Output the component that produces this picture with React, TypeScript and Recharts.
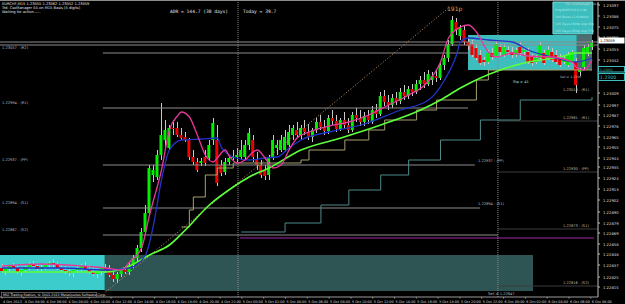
import { ComposedChart, Bar, Line, XAxis, YAxis, ReferenceArea, ReferenceLine } from "recharts";

// candles, [open, high, low, close]
const ohlc: number[][] = [
  [1.22834, 1.22838, 1.22829, 1.22831], [1.22831, 1.22835, 1.22827, 1.22833], [1.22833, 1.22837, 1.2283, 1.22836],
  [1.22836, 1.22839, 1.22832, 1.22834], [1.22834, 1.22837, 1.22828, 1.2283], [1.2283, 1.22834, 1.22826, 1.22832],
  [1.22832, 1.22836, 1.22829, 1.22835], [1.22835, 1.2284, 1.22832, 1.22838], [1.22838, 1.22841, 1.22834, 1.22836],
  [1.22836, 1.22839, 1.22831, 1.22833], [1.22833, 1.22837, 1.2283, 1.22835], [1.22835, 1.22839, 1.22832, 1.22837],
  [1.22837, 1.22841, 1.22834, 1.22839], [1.22839, 1.22843, 1.22835, 1.22837], [1.22837, 1.2284, 1.22832, 1.22834],
  [1.22834, 1.22838, 1.22829, 1.22832], [1.22832, 1.22836, 1.22828, 1.22831], [1.22831, 1.22835, 1.22826, 1.22829],
  [1.22829, 1.22834, 1.22825, 1.22832], [1.22832, 1.22836, 1.22829, 1.22834], [1.22834, 1.22838, 1.2283, 1.22836],
  [1.22836, 1.2284, 1.22832, 1.22833], [1.22833, 1.22837, 1.22828, 1.2283], [1.2283, 1.22834, 1.22826, 1.22828],
  [1.22828, 1.22833, 1.22824, 1.22831], [1.22831, 1.22835, 1.22827, 1.22834], [1.22834, 1.22838, 1.22829, 1.22832],
  [1.22832, 1.22837, 1.22825, 1.22827], [1.22827, 1.22832, 1.2282, 1.22823], [1.22823, 1.2283, 1.22819, 1.22828],
  [1.22828, 1.22834, 1.22825, 1.22832], [1.22832, 1.22836, 1.22828, 1.2283], [1.2283, 1.2284, 1.22827, 1.22837],
  [1.22837, 1.22847, 1.22834, 1.22844], [1.22844, 1.22857, 1.2284, 1.22854], [1.22854, 1.22874, 1.2285, 1.2287],
  [1.2287, 1.22897, 1.22868, 1.22889], [1.22889, 1.22937, 1.22886, 1.22934], [1.22927, 1.22937, 1.2292, 1.22932],
  [1.22925, 1.22952, 1.22922, 1.22947], [1.22947, 1.22999, 1.22942, 1.22967], [1.22962, 1.22982, 1.22952, 1.22972],
  [1.22954, 1.22977, 1.22952, 1.22974], [1.22974, 1.22982, 1.22967, 1.22973], [1.22974, 1.2298, 1.22965, 1.22967],
  [1.22967, 1.22974, 1.22962, 1.22964], [1.22965, 1.2297, 1.2296, 1.22962], [1.22962, 1.22964, 1.22942, 1.22945],
  [1.22945, 1.22952, 1.22937, 1.2294], [1.2294, 1.22944, 1.2293, 1.22932], [1.22939, 1.22944, 1.22936, 1.22941],
  [1.22945, 1.22952, 1.22936, 1.22939], [1.22944, 1.22962, 1.22942, 1.22957], [1.22962, 1.22984, 1.22957, 1.22979],
  [1.22962, 1.22977, 1.22916, 1.22919], [1.22937, 1.22942, 1.22926, 1.22929], [1.2293, 1.22944, 1.22927, 1.2294],
  [1.2294, 1.22947, 1.22937, 1.22944], [1.22944, 1.22952, 1.22942, 1.22945], [1.22945, 1.22954, 1.2294, 1.22947],
  [1.22945, 1.22962, 1.22942, 1.22952], [1.22945, 1.22962, 1.22942, 1.22957], [1.22957, 1.22974, 1.22952, 1.22969],
  [1.22962, 1.22967, 1.2294, 1.22945], [1.22942, 1.2295, 1.22932, 1.22937], [1.22937, 1.22942, 1.22924, 1.22927],
  [1.22932, 1.22937, 1.22922, 1.22926], [1.22927, 1.22947, 1.22922, 1.22944], [1.22945, 1.22967, 1.22942, 1.22962],
  [1.22954, 1.22962, 1.22947, 1.22957], [1.22952, 1.22967, 1.2295, 1.22962], [1.22952, 1.22972, 1.2295, 1.22965],
  [1.22957, 1.22977, 1.22952, 1.2297], [1.22967, 1.22977, 1.22962, 1.22974], [1.22972, 1.2298, 1.22964, 1.22967],
  [1.22967, 1.22977, 1.22962, 1.22974], [1.22974, 1.22982, 1.22967, 1.2297], [1.2297, 1.22978, 1.22962, 1.22965],
  [1.22965, 1.22974, 1.2296, 1.22972], [1.22972, 1.22984, 1.22969, 1.2298], [1.2298, 1.22987, 1.22972, 1.22975],
  [1.22975, 1.22982, 1.22967, 1.22971], [1.22971, 1.22987, 1.22968, 1.22984], [1.22984, 1.22992, 1.22977, 1.22981],
  [1.22981, 1.22987, 1.2297, 1.22973], [1.22973, 1.22984, 1.22971, 1.22982], [1.22982, 1.2299, 1.22974, 1.22977],
  [1.22977, 1.22984, 1.22969, 1.22972], [1.22972, 1.2299, 1.2297, 1.22987], [1.22987, 1.22994, 1.2298, 1.22984],
  [1.22984, 1.22992, 1.22976, 1.2298], [1.2298, 1.2299, 1.22976, 1.22986], [1.22986, 1.22992, 1.22978, 1.22982],
  [1.2298, 1.22996, 1.22978, 1.22992], [1.22992, 1.22998, 1.22984, 1.22988], [1.22988, 1.2301, 1.22986, 1.23006],
  [1.23006, 1.23012, 1.22996, 1.23], [1.23, 1.23007, 1.22992, 1.22997], [1.22997, 1.23008, 1.22994, 1.23004],
  [1.23004, 1.2301, 1.22997, 1.23001], [1.23001, 1.23014, 1.22998, 1.2301], [1.2301, 1.23017, 1.23002, 1.23006],
  [1.23006, 1.23016, 1.23003, 1.23013], [1.23013, 1.23018, 1.23006, 1.2301], [1.2301, 1.23022, 1.23008, 1.23018],
  [1.23018, 1.23026, 1.23012, 1.23022], [1.23022, 1.2303, 1.23014, 1.23018], [1.23018, 1.23032, 1.23016, 1.23028],
  [1.23022, 1.2303, 1.23017, 1.23026], [1.23026, 1.23032, 1.2302, 1.23024], [1.23024, 1.2304, 1.23022, 1.23037],
  [1.23037, 1.23047, 1.23032, 1.23044], [1.23044, 1.23062, 1.2304, 1.23058], [1.23058, 1.23086, 1.23056, 1.23082],
  [1.2308, 1.23084, 1.23067, 1.23072], [1.23066, 1.23077, 1.23062, 1.23074], [1.23072, 1.23077, 1.23057, 1.2306],
  [1.2306, 1.23064, 1.23052, 1.23056], [1.23058, 1.23062, 1.23045, 1.23047], [1.23054, 1.23058, 1.23042, 1.23044],
  [1.23047, 1.23052, 1.23037, 1.23039], [1.23042, 1.23045, 1.23036, 1.2304], [1.2304, 1.23052, 1.23038, 1.23049],
  [1.23049, 1.23054, 1.23042, 1.23045], [1.23045, 1.23062, 1.23044, 1.23058], [1.23055, 1.23058, 1.23046, 1.2305],
  [1.23047, 1.23058, 1.23045, 1.23055], [1.23052, 1.23056, 1.23047, 1.2305], [1.2305, 1.23055, 1.23044, 1.23047],
  [1.23047, 1.23054, 1.23045, 1.23052], [1.23055, 1.2306, 1.23046, 1.23049], [1.2305, 1.23054, 1.23046, 1.23052],
  [1.2305, 1.23054, 1.23038, 1.2304], [1.23045, 1.23048, 1.23036, 1.23039], [1.2304, 1.23047, 1.23038, 1.23044],
  [1.23044, 1.2306, 1.23042, 1.23057], [1.23049, 1.23052, 1.23037, 1.23039], [1.23044, 1.23056, 1.23042, 1.23052],
  [1.2305, 1.23054, 1.2304, 1.23042], [1.23047, 1.23052, 1.23038, 1.2304], [1.23044, 1.23048, 1.23035, 1.23037],
  [1.2304, 1.23046, 1.23038, 1.23044], [1.23037, 1.2305, 1.23035, 1.23047], [1.2304, 1.23052, 1.23038, 1.2305],
  [1.2304, 1.23044, 1.23009, 1.23017], [1.2303, 1.23034, 1.23026, 1.23032], [1.23035, 1.23057, 1.23032, 1.23054],
  [1.23049, 1.23058, 1.23046, 1.23055], [1.23055, 1.23062, 1.23052, 1.23059],
];

// indicator lines, [bar, price]
const fastMA = [
  [0, 1.22836], [10, 1.22838], [20, 1.22836], [26, 1.22834], [30, 1.22832], [32, 1.2284], [35, 1.22854],
  [37, 1.22887], [40, 1.22932], [42, 1.22972], [44, 1.22986], [45, 1.2299], [47, 1.22985], [49, 1.22967],
  [51, 1.22947], [53, 1.2294], [54, 1.22944], [56, 1.22952], [57, 1.22946], [59, 1.22939], [61, 1.22942],
  [63, 1.2295], [64, 1.22952], [66, 1.22944], [68, 1.22934], [70, 1.22937], [72, 1.22952], [74, 1.22964],
  [77, 1.2297], [82, 1.22976], [87, 1.2298], [92, 1.22987], [97, 1.22997], [102, 1.23007], [106, 1.23017],
  [110, 1.2304], [112, 1.23064], [115, 1.23075], [117, 1.23077], [119, 1.2307], [122, 1.2305], [124, 1.23045],
  [128, 1.23049], [132, 1.23046], [138, 1.23045], [143, 1.2304], [144, 1.23035], [146, 1.23032], [148, 1.23042],
];
const midMA = [
  [0, 1.22834], [15, 1.22834], [26, 1.22832], [32, 1.22834], [36, 1.22847], [38, 1.22877], [40, 1.22922],
  [42, 1.22952], [45, 1.22962], [50, 1.22963], [54, 1.22964], [55, 1.22955], [58, 1.22945], [62, 1.22942],
  [66, 1.22944], [69, 1.22945], [72, 1.22954], [75, 1.22962], [82, 1.2297], [90, 1.22977], [100, 1.22992],
  [107, 1.23002], [111, 1.23022], [114, 1.23047], [115, 1.2306], [117, 1.23064], [122, 1.23062], [128, 1.2306],
  [132, 1.23052], [138, 1.23045], [144, 1.2304], [148, 1.23044],
];
const slowMA = [
  [0, 1.2283], [15, 1.2283], [26, 1.2283], [32, 1.22836], [37, 1.22847], [42, 1.22857], [46, 1.22872],
  [52, 1.22897], [58, 1.22915], [62, 1.22925], [67, 1.22934], [75, 1.22952], [85, 1.22964], [95, 1.22977],
  [105, 1.22992], [110, 1.23002], [115, 1.23014], [120, 1.23024], [125, 1.23032], [132, 1.2304], [140, 1.23045],
  [144, 1.23049], [148, 1.23049],
];
const trailStop = [
  [45, 1.22875], [47, 1.22892], [48, 1.22905], [51, 1.22927], [54, 1.22934], [58, 1.22939], [75, 1.22942],
  [77, 1.22952], [86, 1.22962], [92, 1.22972], [96, 1.22982], [104, 1.22992], [109, 1.23002], [119, 1.23022],
  [122, 1.23032], [148, 1.23032],
];
const lowerStop = [
  [60, 1.2287], [71, 1.22879], [80, 1.22897], [87, 1.22912], [95, 1.22927], [102, 1.22942], [110, 1.22962],
  [120, 1.22982], [130, 1.23002], [148, 1.23005],
];
const trendLine = [[26, 1.2281], [112, 1.23094]];

const xTickPos = [
  0, 5.47, 10.94, 16.41, 21.88, 27.35, 32.82, 38.29, 43.76, 49.23, 54.7, 60.17, 65.64, 71.11, 76.58, 82.05,
  87.52, 92.99, 98.46, 103.93, 109.4, 114.87, 120.34, 125.81, 131.28, 136.75, 142.22, 147.69,
];
const xLabels = [
  "4 Oct 2013", "4 Oct 04:00", "4 Oct 06:00", "4 Oct 08:00", "4 Oct 10:00", "4 Oct 12:00", "4 Oct 14:00",
  "4 Oct 16:00", "4 Oct 18:00", "4 Oct 20:00", "4 Oct 22:00", "5 Oct 00:00", "5 Oct 02:00", "5 Oct 04:00",
  "5 Oct 06:00", "5 Oct 08:00", "5 Oct 10:00", "5 Oct 12:00", "5 Oct 14:00", "5 Oct 16:00", "5 Oct 18:00",
  "5 Oct 20:00", "5 Oct 22:00", "6 Oct 00:00", "6 Oct 02:00", "6 Oct 04:00", "6 Oct 06:00", "6 Oct 08:00",
];
// price scale ticks (the ones hidden behind the level boxes are left out)
const yTicks = [
  1.23097, 1.23086, 1.23075, 1.23065, 1.23053, 1.23042, 1.23009, 1.22997, 1.22987, 1.22976,
  1.22965, 1.22955, 1.22944, 1.22935, 1.22924, 1.22913, 1.22902, 1.2289, 1.22879, 1.22869, 1.22858, 1.22848,
  1.22837, 1.22825, 1.22815,
];

// pivot levels: [price, from bar, to bar]
const pivots = [
  [1.2306, -0.5, 149.5], [1.23057, -0.5, 149.5], [1.23049, 25.3, 116.9], [1.22994, 25.3, 116.9],
  [1.22937, 25.3, 118.6], [1.22894, 25.3, 119.9], [1.22867, 25.3, 124.4],
];
const nextPivots = [1.22981, 1.2293, 1.22873, 1.22816];

const rows: any[] = ohlc.map(([o, h, l, c], i) => ({ t: i, o, h, l, c, range: [l, h] }));
const lineSets: Record<string, number[][]> = { fastMA, midMA, slowMA, trailStop, lowerStop, trendLine };
Object.entries(lineSets).forEach(([key, pts]) => {
  pts.forEach(([t, v]) => {
    rows[t][key] = v;
  });
});

const Candle = (props: any) => {
  const { x, y, width, height, payload } = props;
  if (!payload || payload.o == null) return null;
  const { o, h, l, c } = payload;
  const top = Math.min(y, y + height);
  const hh = Math.abs(height);
  const span = h - l || 1;
  const py = (v: number) => top + ((h - v) / span) * hh;
  const cx = Math.round(x + width / 2) + 0.5;
  const b1 = py(Math.max(o, c));
  const b2 = py(Math.min(o, c));
  return (
    <g>
      <line x1={cx} x2={cx} y1={top} y2={top + hh} stroke="#c8c8c8" strokeWidth={1} />
      {o === c ? (
        <line x1={x} x2={x + width} y1={b1} y2={b1} stroke="#fff" strokeWidth={1} />
      ) : (
        <rect x={x} y={b1} width={width} height={Math.max(1, b2 - b1)} fill={c > o ? "#00f000" : "#f00000"} />
      )}
    </g>
  );
};

const XTick = ({ x, y, payload }: any) => (
  <text x={x + 1} y={y + 2.4} fontSize={3.4} fill="#dcdcdc" fontFamily="DejaVu Sans">
    {xLabels[xTickPos.indexOf(payload.value)]}
  </text>
);

const YTick = ({ x, y, payload }: any) => (
  <text x={x + 1} y={y + 1.5} fontSize={3.8} fill="#dcdcdc" fontFamily="DejaVu Sans">
    {payload.value.toFixed(5)}
  </text>
);

const small = { fontFamily: "DejaVu Sans", fontSize: 3.6 };
const boxText = { fontFamily: "DejaVu Sans", fontSize: 3.1 };

export default function App() {
  return (
    <div style={{ position: "absolute", left: 0, top: 0, width: 625, height: 304, background: "#000", overflow: "hidden" }}>
      <ComposedChart width={625} height={304} data={rows} margin={{ top: 2, right: 0, bottom: 0, left: 0 }}>
        <XAxis
          type="number"
          dataKey="t"
          domain={[-0.5, 149.5]}
          ticks={xTickPos}
          interval={0}
          height={7}
          tick={<XTick />}
          tickSize={1.5}
          stroke="#9a9a9a"
          allowDataOverflow
        />
        <YAxis
          orientation="right"
          type="number"
          domain={[1.22805, 1.231]}
          ticks={yTicks}
          interval={0}
          width={27}
          tick={<YTick />}
          tickSize={2}
          stroke="#bdbdbd"
          allowDataOverflow
        />
        <ReferenceArea x1={-0.5} x2={25.8} y1={1.22812} y2={1.22847} fill="#3ccccc" fillOpacity={1} stroke="none" />
        <ReferenceArea x1={25.8} x2={133.2} y1={1.22811} y2={1.22847} fill="#2f5454" fillOpacity={1} stroke="none" />
        <ReferenceArea x1={116.9} x2={144.2} y1={1.23032} y2={1.23067} fill="#3dbdbd" fillOpacity={1} stroke="none" />
        <ReferenceArea x1={144.2} x2={148} y1={1.23032} y2={1.23067} fill="#4d6e6e" fillOpacity={1} stroke="none" />
        <ReferenceArea x1={138.2} x2={148.2} y1={1.23068} y2={1.231} fill="#3dbdbd" fillOpacity={1} stroke="#7fdede" />
        {pivots.map(([p, a, b], i) => (
          <ReferenceLine key={"p" + i} segment={[{ x: a, y: p }, { x: b, y: p }]} stroke="#8c8c8c" strokeWidth={1} />
        ))}
        {nextPivots.map((p, i) => (
          <ReferenceLine key={"n" + i} segment={[{ x: 124.4, y: p }, { x: 149.5, y: p }]} stroke="#3c3c3c" strokeWidth={1} />
        ))}
        <ReferenceLine segment={[{ x: 59.7, y: 1.22864 }, { x: 148.5, y: 1.22864 }]} stroke="#a02aa0" strokeWidth={1} />
        <ReferenceLine x={59.2} stroke="#8a8a8a" strokeDasharray="1 1" />
        <ReferenceLine x={124.4} stroke="#8a8a8a" strokeDasharray="1 1" />
        <Bar dataKey="range" barSize={3} shape={<Candle />} isAnimationActive={false} />
        <Line dataKey="trendLine" stroke="#c89a6a" strokeDasharray="1 2" dot={false} connectNulls isAnimationActive={false} />
        <Line dataKey="lowerStop" type="stepAfter" stroke="#4f8a8a" dot={false} connectNulls isAnimationActive={false} />
        <Line dataKey="trailStop" type="stepAfter" stroke="#a8a06c" dot={false} connectNulls isAnimationActive={false} />
        <Line dataKey="slowMA" type="monotone" stroke="#5cff3a" strokeWidth={1.6} dot={false} connectNulls isAnimationActive={false} />
        <Line dataKey="midMA" type="monotone" stroke="#2233c8" strokeWidth={1.3} dot={false} connectNulls isAnimationActive={false} />
        <Line dataKey="fastMA" type="monotone" stroke="#e8389c" strokeWidth={1.3} dot={false} connectNulls isAnimationActive={false} />
      </ComposedChart>

      <svg width={625} height={304} style={{ position: "absolute", left: 0, top: 0, pointerEvents: "none" }}>
        <line x1={0} x2={625} y1={0.5} y2={0.5} stroke="#8c8c8c" />
        <text x={2} y={5} {...small} fill="#e0e0e0">EURCHF,M15  1.23055 1.23062 1.23052 1.23059</text>
        <text x={2} y={9} {...small} fill="#e0e0e0">Trd: CsoManager EA on M15 Basis (5 digits)</text>
        <text x={2} y={13} {...small} fill="#e0e0e0">Waiting for action......</text>
        <text x={170} y={12.5} fontFamily="DejaVu Sans Mono" fontSize={4.6} fill="#e6e6e6">ADR = 144.7  (30 days)</text>
        <text x={243} y={12.5} fontFamily="DejaVu Sans Mono" fontSize={4.6} fill="#e6e6e6">Today = 39.7</text>
        <text x={447} y={11} fontFamily="DejaVu Sans" fontSize={6} fill="#e09a4a">191p</text>
        <text x={565} y={5} {...boxText} fill="#d0d0d0">Trd: CsoManager v4.4</text>
        <text x={555} y={11} {...boxText} fill="#a8ecec">Rng(8xM15)0-0 2.9p</text>
        <text x={555} y={18} {...boxText} fill="#a8ecec">200 Boxes (2.6/Week)</text>
        <text x={555} y={25} {...boxText} fill="#a8ecec">145 Days&gt;600p Avg 46p</text>
        <text x={555} y={32} {...boxText} fill="#a8ecec">145 Days&gt;800p Avg 37p</text>
        <text x={2} y={49} {...small} fill="#bdbdbd">1.23057 - (R2)</text>
        <text x={2} y={104} {...small} fill="#bdbdbd">1.22994 - (R1)</text>
        <text x={2} y={161} {...small} fill="#bdbdbd">1.22937 - (PP)</text>
        <text x={2} y={204} {...small} fill="#bdbdbd">1.22894 - (S1)</text>
        <text x={2} y={231} {...small} fill="#bdbdbd">1.22867 - (S2)</text>
        <text x={478} y={162} {...small} fill="#bdbdbd">1.22937 - (PP)</text>
        <text x={478} y={205} {...small} fill="#bdbdbd">1.22894 - (S1)</text>
        <text x={563} y={91} {...small} fill="#bdbdbd">1.23013 - (R1)</text>
        <text x={563} y={119} {...small} fill="#bdbdbd">1.22981 - (R1)</text>
        <text x={563} y={170} {...small} fill="#bdbdbd">1.22930 - (PP)</text>
        <text x={563} y={227} {...small} fill="#bdbdbd">1.22873 - (S1)</text>
        <text x={563} y={284} {...small} fill="#bdbdbd">1.22816 - (S2)</text>
        <text x={513} y={83} {...small} fill="#9fe0e0">Stp ≥ 41</text>
        <text x={560} y={78} {...boxText} fill="#bdbdbd">Sell ≥ 1.2300</text>
        <text x={488} y={295} {...small} fill="#bdbdbd">Sell ≥ 1.22847</text>
        <rect x={598.5} y={37.5} width={26} height={6} fill="#ffffff" />
        <text x={600} y={42} {...small} fill="#000">1.23059</text>
        <rect x={598.5} y={66.5} width={26} height={5.5} fill="#000" stroke="#3dbdbd" />
        <text x={600} y={70.8} {...boxText} fill="#3dbdbd">1.23032</text>
        <rect x={598.5} y={73.5} width={26} height={7} fill="#000" stroke="#3dbdbd" />
        <text x={600} y={79.2} fontFamily="DejaVu Sans" fontSize={4.6} fill="#3dbdbd">1.2300</text>
        <rect x={1.5} y={292.5} width={95} height={4.5} fill="#000" stroke="#8c8c8c" strokeWidth={0.6} />
        <text x={3} y={296} fontFamily="DejaVu Sans" fontSize={3.3} fill="#e0e0e0">
          MIG Trading Station, © 2001-2013 MetaQuotes Software Corp.
        </text>
      </svg>
    </div>
  );
}
